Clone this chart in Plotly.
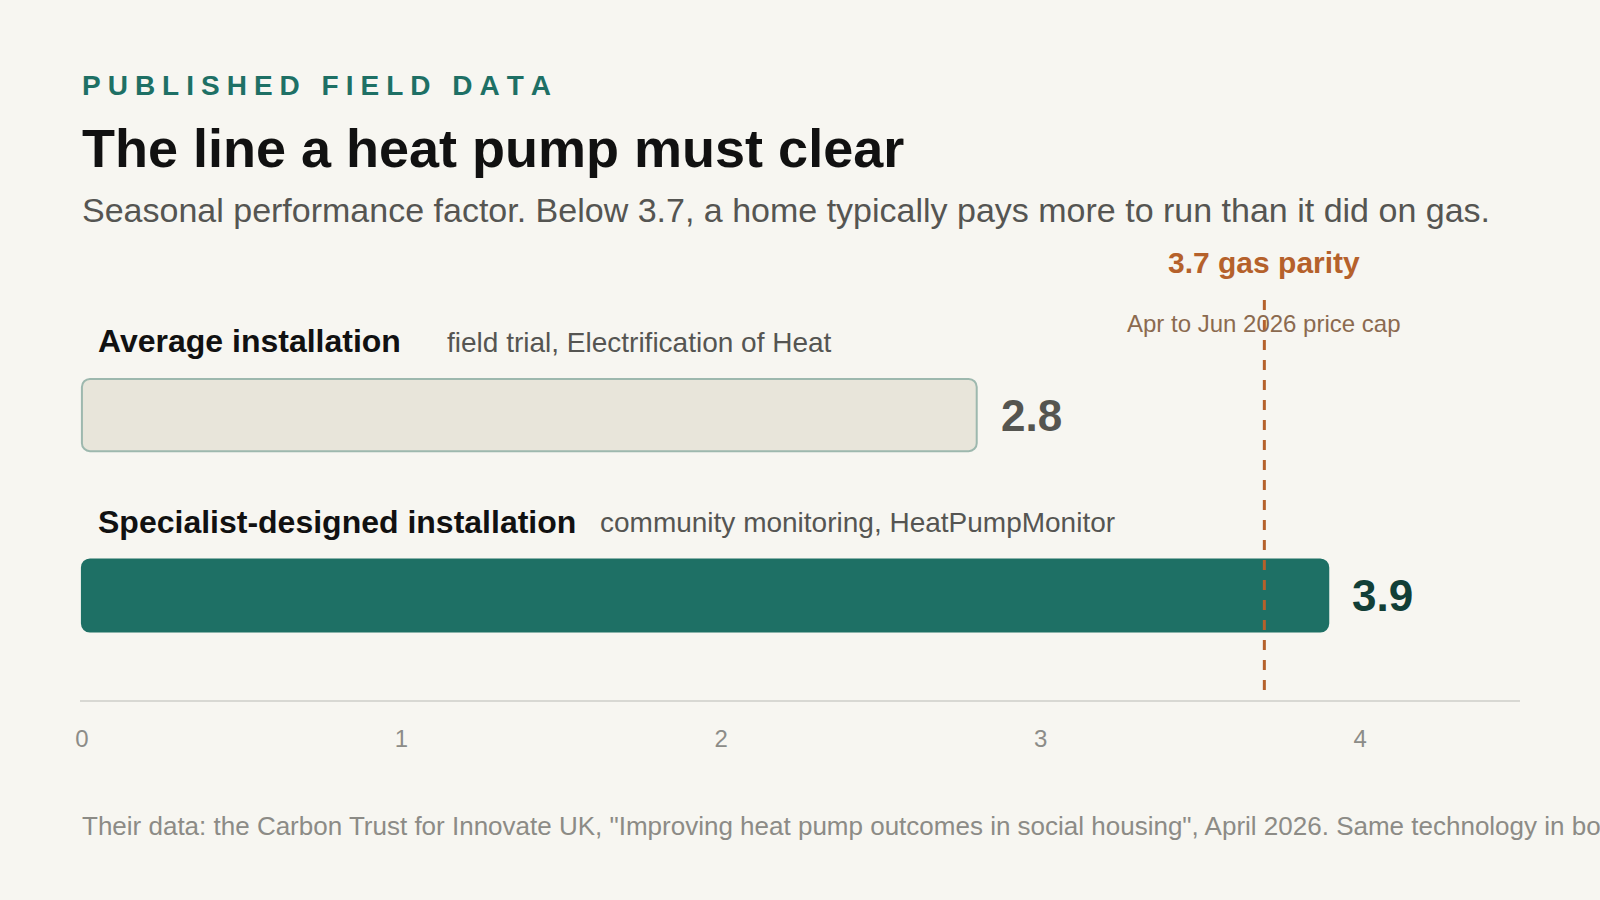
import plotly.graph_objects as go

# data
groups = ["Average installation", "Specialist-designed installation"]
notes = ["field trial, Electrification of Heat", "community monitoring, HeatPumpMonitor"]
spf = [2.8, 3.9]
value_labels = ["2.8", "3.9"]
parity = 3.7
parity_label = "3.7 gas parity"
parity_note = "Apr to Jun 2026 price cap"
x_ticks = [0, 1, 2, 3, 4]

eyebrow = "PUBLISHED FIELD DATA"
title = "The line a heat pump must clear"
subtitle = "Seasonal performance factor. Below 3.7, a home typically pays more to run than it did on gas."
footer = ('Their data: the Carbon Trust for Innovate UK, "Improving heat pump outcomes in social housing", '
          'April 2026. Same technology in both groups.')

FONT = "Liberation Sans, Arial, Helvetica, sans-serif"
BG = "#f7f6f1"
TEAL = "#1e7065"
ORANGE = "#b5612b"
bar_fill = ["#e8e5da", TEAL]
bar_edge = ["#9db8ae", TEAL]

W, H = 1600, 900
M = dict(l=80, r=80, t=301, b=200)
plot_h = H - M["t"] - M["b"]
plot_w = W - M["l"] - M["r"]


def py(y):
    # pixel row -> paper y
    return (H - M["b"] - y) / plot_h


def px(x):
    return (x - M["l"]) / plot_w


# fake letter spacing with four-per-em spaces
spaced = "\u2005".join(eyebrow)

fig = go.Figure()

# explicit base so both ends get rounded
fig.add_trace(go.Bar(y=groups, x=spf, base=[0] * len(spf), orientation="h", width=0.4,
                     marker=dict(color=bar_fill, line=dict(color=bar_edge, width=2), cornerradius=8),
                     hoverinfo="skip"))

annotations = []
# header
annotations.append(dict(text="<b>" + spaced + "</b>", x=0, y=py(85), font=dict(size=28, color=TEAL)))
annotations.append(dict(text="<b>" + title + "</b>", x=0, y=py(148), font=dict(size=54, color="#111111")))
annotations.append(dict(text=subtitle, x=0, y=py(210), font=dict(size=34, color="#555552")))
annotations.append(dict(text=footer, x=0, y=py(826), font=dict(size=26, color="#8c8b86")))
for a in annotations:
    a.update(xref="paper", yref="paper", xanchor="left", yanchor="middle", showarrow=False)

# row labels above the bars
note_x = [446, 599]
for g, n, nx_ in zip(groups, notes, note_x):
    annotations.append(dict(text="<b>" + g + "</b>", xref="paper", x=px(96), yref="y", y=g,
                            yshift=74, xanchor="left", yanchor="middle", showarrow=False,
                            font=dict(size=32, color="#111111")))
    annotations.append(dict(text=n, xref="paper", x=px(nx_ - 1), yref="y", y=g,
                            yshift=73, xanchor="left", yanchor="middle", showarrow=False,
                            font=dict(size=28, color="#555552")))

# values at bar ends
val_colors = ["#555550", "#123f37"]
for g, v, lab, c in zip(groups, spf, value_labels, val_colors):
    annotations.append(dict(text="<b>" + lab + "</b>", x=v, y=g, xref="x", yref="y",
                            xshift=22, xanchor="left", yanchor="middle", showarrow=False,
                            font=dict(size=44, color=c)))

# parity labels
annotations.append(dict(text="<b>" + parity_label + "</b>", x=parity, xref="x", y=py(262), yref="paper",
                        xanchor="center", yanchor="middle", showarrow=False,
                        font=dict(size=30, color=ORANGE)))
annotations.append(dict(text=parity_note, x=parity, xref="x", y=py(323), yref="paper",
                        xanchor="center", yanchor="middle", showarrow=False,
                        font=dict(size=24, color="#8b6a4f")))

fig.add_shape(type="line", xref="x", yref="paper", x0=parity, x1=parity, y0=py(690), y1=py(300),
              line=dict(color=ORANGE, width=3, dash="10px,10px"), layer="above")

fig.update_layout(
    width=W, height=H,
    margin=M,
    paper_bgcolor=BG, plot_bgcolor=BG,
    font=dict(family=FONT),
    showlegend=False,
    annotations=annotations,
    xaxis=dict(range=[-0.006, 4.5], tickvals=x_ticks, ticktext=[str(t) for t in x_ticks],
               showgrid=False, zeroline=False, showline=True, linecolor="#d8d8d3", linewidth=2,
               ticks="", ticklabelstandoff=16, tickfont=dict(size=24, color="#8c8c88"),
               fixedrange=True),
    yaxis=dict(type="category", categoryarray=groups, range=[1.579, -0.632],
               showgrid=False, zeroline=False, showticklabels=False, showline=False,
               fixedrange=True),
)

fig.write_html("out.html", config={"displayModeBar": False},
               post_script="document.body.style.margin='0';")
